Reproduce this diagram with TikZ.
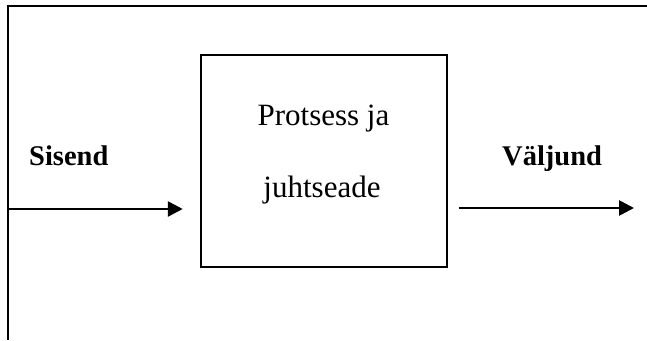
\documentclass[tikz,border=0pt]{standalone}
\usepackage{fontspec}
\setmainfont{Liberation Serif}
\usetikzlibrary{arrows.meta}
\begin{document}
\begin{tikzpicture}[x=1pt,y=-1pt,
  frame/.style={line width=2pt},
  procbox/.style={draw,line width=2pt,rectangle,minimum width=246pt,minimum height=212pt,inner sep=0pt},
  flow/.style={line width=2.7pt,-{Triangle[length=15pt,width=15pt]}},
  boldlbl/.style={font=\fontsize{28.5}{34}\selectfont\bfseries,inner sep=0pt,anchor=base west},
  boxtxt/.style={font=\fontsize{31}{37}\selectfont,inner sep=0pt,anchor=base}]
\useasboundingbox (0,0) rectangle (647,340);
% outer frame (top and left sides)
\coordinate (fTR) at (647,6);
\coordinate (fTL) at (7.5,6);
\coordinate (fBL) at (7.5,340);
\draw[frame] (fTR) -- (fTL) -- (fBL);
% process box
\node[procbox] (box) at (323.75,161) {};
\node[boxtxt] (t1) at (323.5,125) {Protsess ja};
\node[boxtxt] (t2) at (322,197) {juhtseade};
% labels
\node[boldlbl] (sis) at (29,165) {Sisend};
\node[boldlbl] (val) at (502,165) {Väljund};
% arrows
\coordinate (inA) at (7.5,209);
\coordinate (outB) at (634,208);
\draw[flow,shorten >=17pt] (inA) -- (inA -| box.west);
\draw[flow,shorten <=11pt] (outB -| box.east) -- (outB);
\end{tikzpicture}
\end{document}
